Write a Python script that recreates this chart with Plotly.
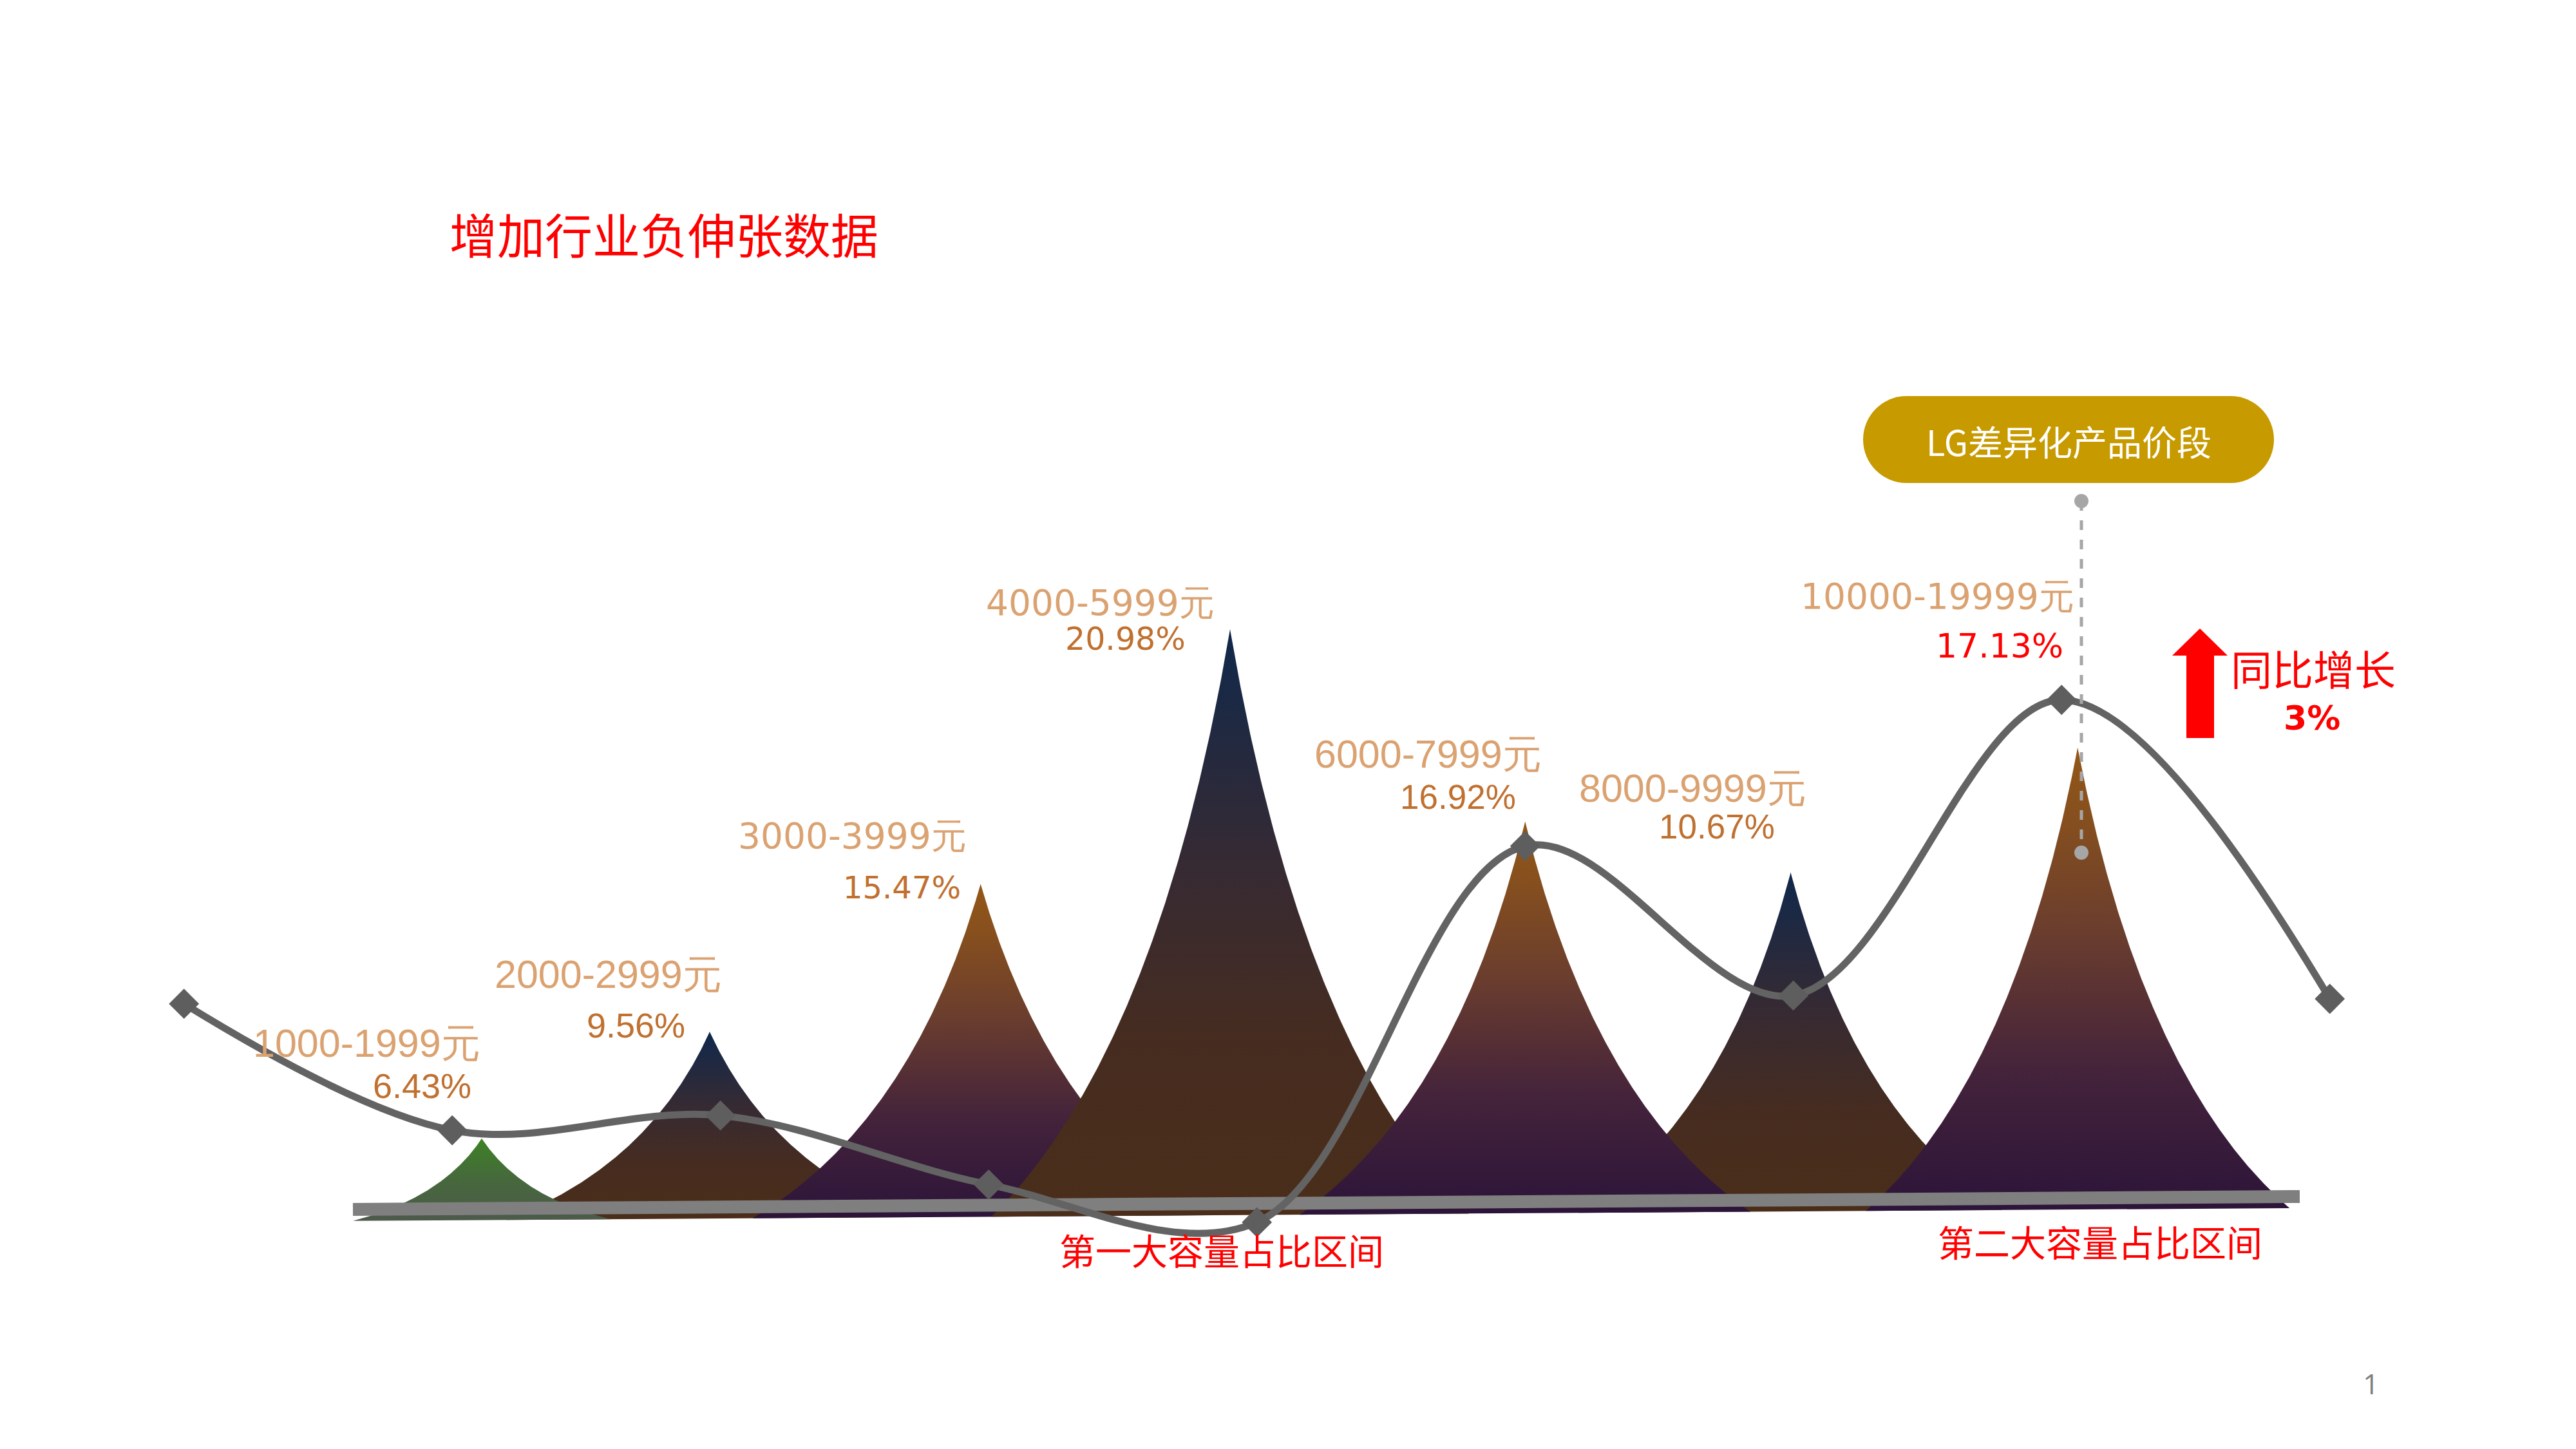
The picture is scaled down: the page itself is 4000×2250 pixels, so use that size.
import numpy as np
import plotly.graph_objects as go

# ---------------- data ----------------
categories = ["1000-1999元", "2000-2999元", "3000-3999元", "4000-5999元",
              "6000-7999元", "8000-9999元", "10000-19999元"]
shares = [6.43, 9.56, 15.47, 20.98, 16.92, 10.67, 17.13]
# peak (mountain) geometry in chart units
peak_center = [1.11, 1.96, 2.97, 3.90, 5.00, 5.99, 7.06]
peak_height = [4.2, 10.7, 19.7, 35.2, 23.5, 20.4, 28.0]
peak_halfwidth = [0.48, 0.76, 0.85, 0.89, 0.84, 0.79, 0.79]
peak_style = ["green", "navy", "orange", "navy", "orange", "navy", "orange"]
# trend line (9 points, evenly spaced)
trend_index = [0, 1, 2, 3, 4, 5, 6, 7, 8]
trend_values = [12.4, 4.7, 5.6, 1.4, -0.9, 22.0, 12.9, 30.9, 12.7]

title_text = "增加行业负伸张数据"
badge_text = "LG差异化产品价段"
zone_labels = ["第一大容量占比区间", "第二大容量占比区间"]
growth_label = "同比增长"
growth_value = "3%"
page_number = "1"

# ---------------- layout helpers ----------------
W, H = 4000, 2250
X0, DX = 285.7, 416.5          # pixel position of index 0 and spacing
Y0, DY = 1875.0, 25.51         # pixel position of unit 0 and unit size
x_range = [(0 - X0) / DX, (W - X0) / DX]
y_range = [(Y0 - H) / DY, Y0 / DY]


def px(X):
    return X / W


def py(Y):
    return 1 - Y / H


# baseline bar (slightly slanted) in chart units
bar_x = [(548 - X0) / DX, (3571 - X0) / DX]
bar_y = [(Y0 - 1878) / DY, (Y0 - 1858) / DY]


def bar_center(x):
    return bar_y[0] + (x - bar_x[0]) * (bar_y[1] - bar_y[0]) / (bar_x[1] - bar_x[0])


gradients = {
    "green": [[0, "#4d5a4b"], [0.5, "#46683c"], [1, "#3d8225"]],
    "navy": [[0, "#4a2e1a"], [0.3, "#462c20"], [0.6, "#362a33"], [1, "#10284b"]],
    "orange": [[0, "#2c1439"], [0.3, "#44233b"], [0.6, "#6a3d2e"], [0.85, "#864f1e"], [1, "#935718"]],
}

# concave side profile: quadratic Bezier from apex (0,1) to corner (1,0)
CA, CB = 0.30, 0.28
s = np.linspace(0, 1, 200)
prof_t = 2 * s * (1 - s) * CA + s ** 2
prof_f = (1 - s) ** 2 + 2 * s * (1 - s) * CB

fig = go.Figure()

draw_order = [1, 0, 2, 3, 5, 4, 6]
for k in draw_order:
    c, h, w = peak_center[k], peak_height[k], peak_halfwidth[k]
    xr = c + prof_t * w
    xl = c - prof_t * w
    base_r = np.array([bar_center(v) - 0.7 for v in xr])
    base_l = np.array([bar_center(v) - 0.7 for v in xl])
    base_c = bar_center(c) - 0.7
    yr = base_r + (h - base_c) * prof_f
    yl = base_l + (h - base_c) * prof_f
    xs = np.concatenate([xl[::-1], xr[1:]])
    ys = np.concatenate([yl[::-1], yr[1:]])
    fig.add_trace(go.Scatter(
        x=xs, y=ys, mode="lines", fill="toself",
        line=dict(width=0, color="rgba(0,0,0,0)"),
        fillgradient=dict(type="vertical", colorscale=gradients[peak_style[k]]),
        hoverinfo="skip", showlegend=False))

# baseline bar
fig.add_trace(go.Scatter(x=bar_x, y=bar_y, mode="lines",
                         line=dict(color="#7f7f7f", width=20),
                         hoverinfo="skip", showlegend=False))

# trend line
fig.add_trace(go.Scatter(
    x=trend_index, y=trend_values, mode="lines+markers",
    line=dict(color="#636363", width=11, shape="spline", smoothing=1.0),
    marker=dict(symbol="diamond", size=36, color="#5e5e5e"),
    hoverinfo="skip", showlegend=False))

fig.update_xaxes(range=x_range, visible=False, fixedrange=True)
fig.update_yaxes(range=y_range, visible=False, fixedrange=True)

A = "Liberation Sans, Arial, sans-serif"
V = "DejaVu Sans, Verdana, sans-serif"
CJK = "Noto Sans CJK SC, sans-serif"

# label positions (pixel centres) and fonts
cat_pos = [(569, 1620), (944, 1513), (1323, 1298), (1708, 936),
           (2217, 1171), (2628, 1224), (3008, 926)]
pct_pos = [(655, 1686), (987, 1592), (1400, 1378), (1747, 992),
           (2264, 1237), (2666, 1283), (3105, 1003)]
fonts = [A, A, V, V, A, A, V]
cat_sizes = [61, 61, 55, 55, 61, 61, 55]
pct_sizes = [54, 54, 48, 49, 53, 53, 52]
pct_colors = ["#c0702f"] * 6 + ["#ff0000"]

annotations = []
for k in range(len(categories)):
    annotations.append(dict(
        x=px(cat_pos[k][0]), y=py(cat_pos[k][1]), xref="paper", yref="paper",
        text=categories[k], showarrow=False, xanchor="center", yanchor="middle",
        font=dict(family=fonts[k], size=cat_sizes[k], color="#dba271")))
    annotations.append(dict(
        x=px(pct_pos[k][0]), y=py(pct_pos[k][1]), xref="paper", yref="paper",
        text=f"{shares[k]:.2f}%", showarrow=False, xanchor="center", yanchor="middle",
        font=dict(family=fonts[k], size=pct_sizes[k], color=pct_colors[k])))

annotations += [
    dict(x=px(1031), y=py(362), xref="paper", yref="paper", text=title_text,
         showarrow=False, xanchor="center", yanchor="middle",
         font=dict(family=CJK, size=74, color="#ff0000")),
    dict(x=px(1897), y=py(1939), xref="paper", yref="paper", text=zone_labels[0],
         showarrow=False, xanchor="center", yanchor="middle",
         font=dict(family=CJK, size=56, color="#ff0000")),
    dict(x=px(3261), y=py(1926), xref="paper", yref="paper", text=zone_labels[1],
         showarrow=False, xanchor="center", yanchor="middle",
         font=dict(family=CJK, size=56, color="#ff0000")),
    dict(x=px(3212), y=py(684), xref="paper", yref="paper", text=badge_text,
         showarrow=False, xanchor="center", yanchor="middle",
         font=dict(family=CJK, size=54, color="#ffffff")),
    dict(x=px(3592), y=py(1036), xref="paper", yref="paper", text=growth_label,
         showarrow=False, xanchor="center", yanchor="middle",
         font=dict(family=CJK, size=64, color="#ff0000")),
    dict(x=px(3590), y=py(1115), xref="paper", yref="paper", text="<b>" + growth_value + "</b>",
         showarrow=False, xanchor="center", yanchor="middle",
         font=dict(family=V, size=52, color="#ff0000")),
    dict(x=px(3681), y=py(2148), xref="paper", yref="paper", text=page_number,
         showarrow=False, xanchor="center", yanchor="middle",
         font=dict(family="Open Sans, Liberation Sans, sans-serif", size=44, color="#7f7f7f")),
]

# rounded pill path
def pill_path(x1, y1, x2, y2):
    r = (y2 - y1) / 2
    kk = 0.5523 * r
    pts = [
        f"M{px(x1 + r)},{py(y1)}",
        f"L{px(x2 - r)},{py(y1)}",
        f"C{px(x2 - r + kk)},{py(y1)} {px(x2)},{py(y1 + r - kk)} {px(x2)},{py(y1 + r)}",
        f"C{px(x2)},{py(y1 + r + kk)} {px(x2 - r + kk)},{py(y2)} {px(x2 - r)},{py(y2)}",
        f"L{px(x1 + r)},{py(y2)}",
        f"C{px(x1 + r - kk)},{py(y2)} {px(x1)},{py(y1 + r + kk)} {px(x1)},{py(y1 + r)}",
        f"C{px(x1)},{py(y1 + r - kk)} {px(x1 + r - kk)},{py(y1)} {px(x1 + r)},{py(y1)}",
        "Z",
    ]
    return " ".join(pts)


arrow_pts = [(3416, 976), (3459, 1018), (3438, 1018), (3438, 1146),
             (3395, 1146), (3395, 1018), (3373, 1018)]
arrow_path = "M" + " L".join(f"{px(a)},{py(b)}" for a, b in arrow_pts) + " Z"

shapes = [
    dict(type="path", xref="paper", yref="paper", path=pill_path(2893, 615, 3531, 750),
         fillcolor="#c79a00", line=dict(width=0), layer="above"),
    dict(type="line", xref="paper", yref="paper", x0=px(3232), x1=px(3232),
         y0=py(778), y1=py(1324), line=dict(color="#a6a6a6", width=5, dash="dash"),
         layer="above"),
    dict(type="circle", xref="paper", yref="paper", x0=px(3221), x1=px(3243),
         y0=py(767), y1=py(789), fillcolor="#a6a6a6", line=dict(width=0), layer="above"),
    dict(type="circle", xref="paper", yref="paper", x0=px(3221), x1=px(3243),
         y0=py(1313), y1=py(1335), fillcolor="#a6a6a6", line=dict(width=0), layer="above"),
    dict(type="path", xref="paper", yref="paper", path=arrow_path,
         fillcolor="#ff0000", line=dict(width=0), layer="above"),
]

fig.update_layout(
    width=W, height=H, autosize=False,
    margin=dict(l=0, r=0, t=0, b=0, pad=0),
    paper_bgcolor="#ffffff", plot_bgcolor="#ffffff",
    showlegend=False, annotations=annotations, shapes=shapes,
)

fig.write_html("out.html")
